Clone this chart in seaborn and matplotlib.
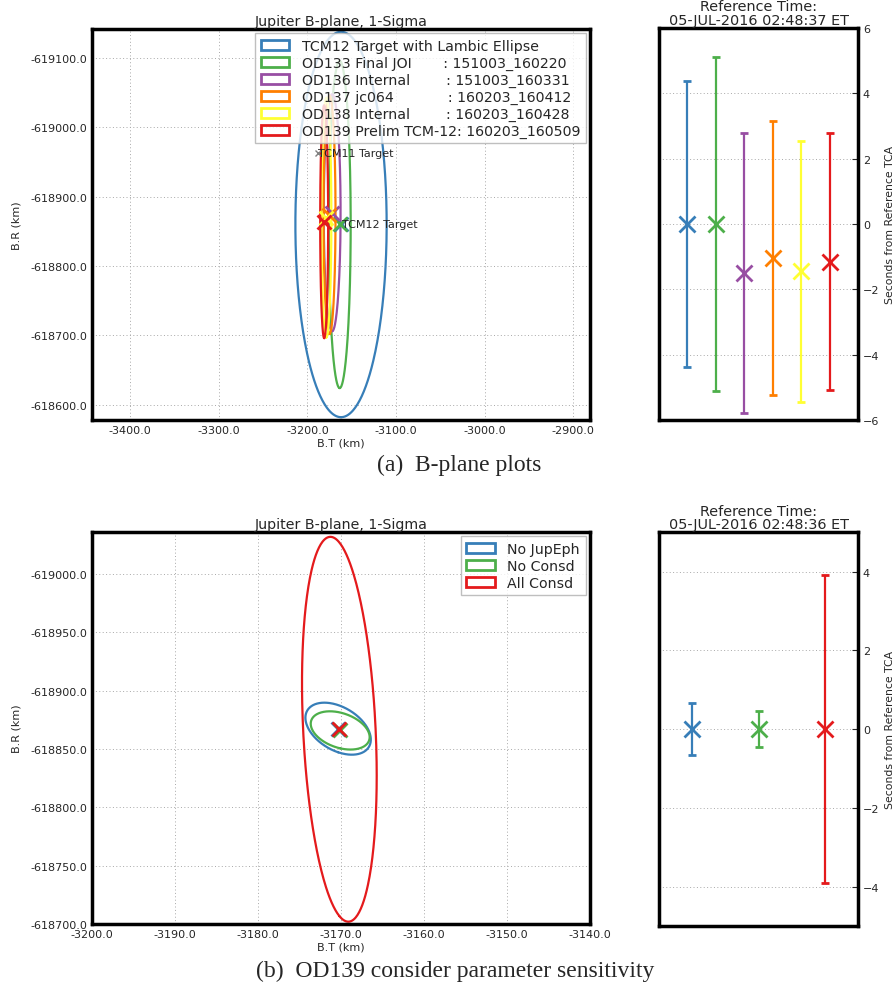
import matplotlib
matplotlib.use("Agg")
import matplotlib.pyplot as plt
import numpy as np
import pandas as pd
import seaborn as sns
from matplotlib.patches import Patch
from matplotlib.ticker import FormatStrFormatter, MultipleLocator

# (a) B-plane, solutions OD133 .. OD139 (km, 1-sigma)
sol_labels = [
    "TCM12 Target with Lambic Ellipse",
    "OD133 Final JOI       : 151003_160220",
    "OD136 Internal        : 151003_160331",
    "OD137 jc064            : 160203_160412",
    "OD138 Internal        : 160203_160428",
    "OD139 Prelim TCM-12: 160203_160509",
]
sol_colors = ["#377eb8", "#4daf4a", "#984ea3", "#ff7f00", "#ffff33", "#e41a1c"]
sol_bt = [-3162.0, -3163.5, -3172.0, -3175.0, -3178.5, -3181.0]
sol_br = [-618860.0, -618860.0, -618877.0, -618874.0, -618870.0, -618864.0]
sol_sig_bt = [51.5, 12.4, 9.5, 6.8, 5.6, 4.5]
sol_sig_br = [278.0, 236.0, 171.0, 172.0, 173.0, 168.0]
sol_tca = [0.0, 0.0, -1.5, -1.05, -1.45, -1.15]
sol_tca_sig = [4.37, 5.12, 4.3, 4.2, 4.0, 3.93]

tcm11_bt, tcm11_br = -3187.6, -618963.0
tcm12_bt, tcm12_br = -3162.0, -618860.0

# (b) OD139 consider parameter sensitivity
cons_labels = ["No JupEph", "No Consd", "All Consd"]
cons_colors = ["#377eb8", "#4daf4a", "#e41a1c"]
cons_bt = [-3170.35, -3170.1, -3170.2]
cons_br = [-618867.5, -618866.0, -618867.0]
cons_sig_bt = [3.94, 3.55, 4.5]
cons_sig_br = [22.3, 16.4, 165.0]
cons_rho = [0.42, 0.35, 0.24]
cons_tca = [0.0, 0.0, 0.0]
cons_tca_sig = [0.65, 0.45, 3.9]


def ellipse_frame(cx, cy, sx, sy, rho=0.0, n=361):
    """Contour 1-sigma d'une covariance 2D (sx, sy, rho)."""
    # on part du haut de l'ellipse pour que la jonction tombe sur une zone plate
    t = np.linspace(np.pi / 2, 2.5 * np.pi, n)
    return pd.DataFrame({
        "bt": cx + sx * np.cos(t),
        "br": cy + sy * (rho * np.cos(t) + np.sqrt(1 - rho ** 2) * np.sin(t)),
    })


def style_axes(ax):
    for sp in ax.spines.values():
        sp.set_linewidth(2.5)
        sp.set_color("black")
    ax.grid(True, ls=(0, (1, 2.5)), color="#a8a8a8", lw=0.7)
    ax.tick_params(direction="in", labelsize=8, length=4)


def bplane(ax, bt, br, sig_bt, sig_br, rhos, colors, labels):
    for i in range(len(bt)):
        df = ellipse_frame(bt[i], br[i], sig_bt[i], sig_br[i], rhos[i])
        sns.lineplot(data=df, x="bt", y="br", sort=False, estimator=None,
                     color=colors[i], lw=1.6, ax=ax)
    for i in range(len(bt)):
        ax.plot(bt[i], br[i], "x", color=colors[i], ms=10, mew=2)
    handles = [Patch(facecolor="none", edgecolor=c, lw=2) for c in colors]
    leg = ax.legend(handles, labels, loc="upper right", fontsize=10.2,
                    frameon=True, fancybox=False, borderaxespad=0.3,
                    handlelength=2.0, handletextpad=0.9, labelspacing=0.2)
    leg.get_frame().set_edgecolor("#b0b0b0")
    ax.xaxis.set_major_formatter(FormatStrFormatter("%.1f"))
    ax.yaxis.set_major_formatter(FormatStrFormatter("%.1f"))
    ax.set_xlabel("B.T (km)", fontsize=8, labelpad=2)
    ax.set_ylabel("B.R (km)", fontsize=8, labelpad=6)
    ax.set_title("Jupiter B-plane, 1-Sigma", fontsize=10.2, pad=3)
    style_axes(ax)


def tca_panel(ax, xs, tca, sig, colors, ref_time):
    for x, y, e, c in zip(xs, tca, sig, colors):
        ax.errorbar(x, y, yerr=e, fmt="x", color=c, ms=11, mew=2,
                    elinewidth=1.6, capsize=3, capthick=1.6)
    ax.set_xticks([])
    ax.yaxis.tick_right()
    ax.yaxis.set_label_position("right")
    ax.yaxis.set_major_locator(MultipleLocator(2))
    ax.set_ylabel("Seconds from Reference TCA", fontsize=7.8, labelpad=4,
                  family="DejaVu Sans Condensed")
    ax.set_title("Reference Time:\n" + ref_time, fontsize=10.4, pad=3,
                 linespacing=0.95)
    style_axes(ax)
    ax.grid(False, axis="x")


sns.set_style("white")
plt.rcParams["font.family"] = ["DejaVu Sans"]

fig = plt.figure(figsize=(8.96, 9.87), dpi=100)

ax1 = fig.add_axes([0.1027, 0.5735, 0.5558, 0.3961])
bplane(ax1, sol_bt, sol_br, sol_sig_bt, sol_sig_br, [0.0] * 6,
       sol_colors, sol_labels)
ax1.plot(tcm11_bt, tcm11_br, "x", color="gray", ms=4, mew=1)
ax1.text(tcm11_bt, tcm11_br, "TCM11 Target", fontsize=8, va="center", ha="left")
ax1.text(tcm12_bt + 1, tcm12_br, "TCM12 Target", fontsize=8, va="center", ha="left")
ax1.set_xlim(-3443, -2881)
ax1.set_ylim(-618578, -619142)
ax1.xaxis.set_major_locator(MultipleLocator(100))
ax1.yaxis.set_major_locator(MultipleLocator(100))

ax2 = fig.add_axes([0.7355, 0.5735, 0.2221, 0.397])
tca_panel(ax2, np.arange(1, len(sol_tca) + 1), sol_tca, sol_tca_sig,
          sol_colors, "05-JUL-2016 02:48:37 ET")
ax2.set_xlim(0, 7)
ax2.set_ylim(-6, 6)

ax3 = fig.add_axes([0.1027, 0.0628, 0.5558, 0.397])
bplane(ax3, cons_bt, cons_br, cons_sig_bt, cons_sig_br, cons_rho,
       cons_colors, cons_labels)
ax3.set_xlim(-3200, -3140)
ax3.set_ylim(-618700, -619036)
ax3.xaxis.set_major_locator(MultipleLocator(10))
ax3.yaxis.set_major_locator(MultipleLocator(50))

ax4 = fig.add_axes([0.7355, 0.0608, 0.2221, 0.399])
tca_panel(ax4, np.arange(len(cons_tca)) + 0.5, cons_tca, cons_tca_sig,
          cons_colors, "05-JUL-2016 02:48:36 ET")
ax4.set_xlim(0, 3)
ax4.set_ylim(-5, 5)

fig.text(0.513, 0.528, "(a)  B-plane plots", family="Liberation Serif",
         fontsize=17, ha="center", va="center")
fig.text(0.508, 0.016, "(b)  OD139 consider parameter sensitivity",
         family="Liberation Serif", fontsize=17, ha="center", va="center")

fig.savefig("out.png", dpi=100)
plt.close(fig)
